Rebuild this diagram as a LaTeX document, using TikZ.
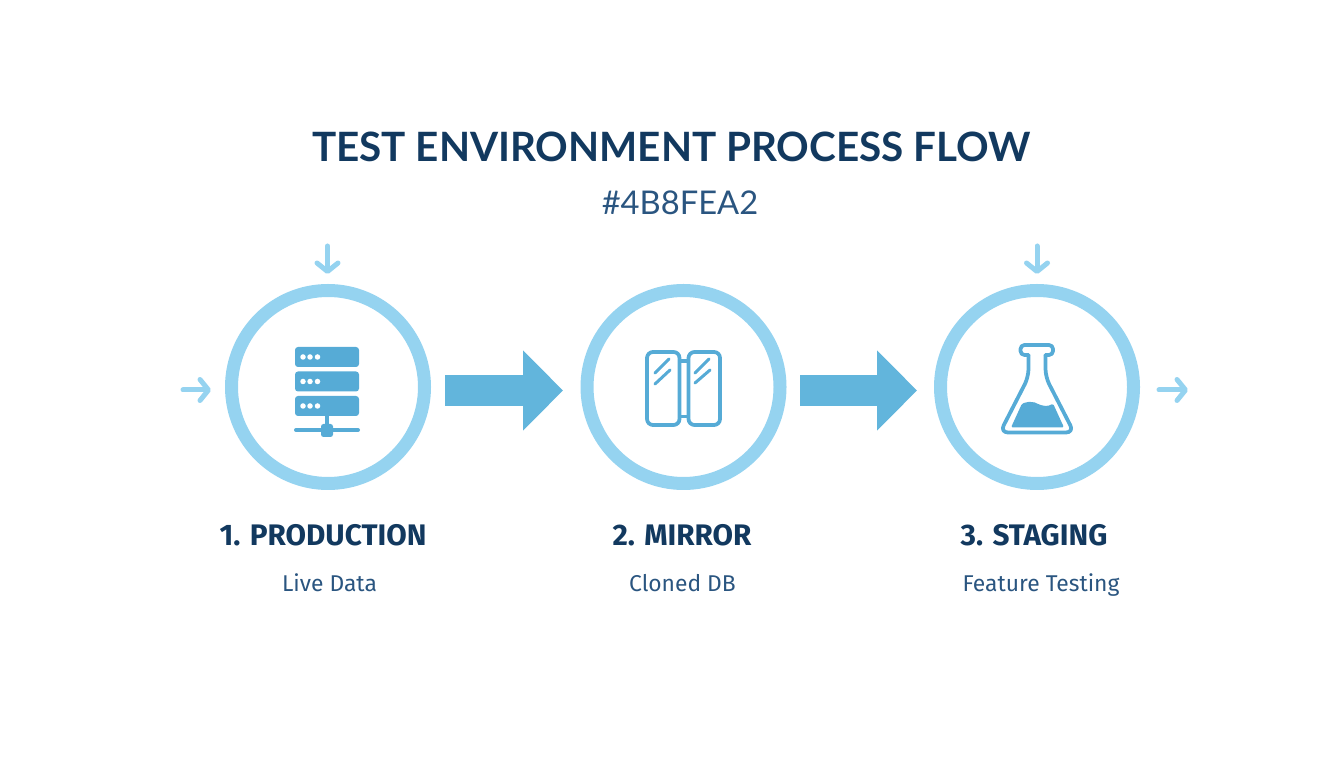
\documentclass[tikz,border=0pt]{standalone}
\usepackage{fontspec}
\setmainfont{Fira Sans}
\newfontfamily\titlefont{Lato}
\usepackage{xcolor}
\usetikzlibrary{arrows.meta,calc}
\definecolor{ringcolor}{HTML}{95D3F0}
\definecolor{iconcolor}{HTML}{56ABD6}
\definecolor{flowcolor}{HTML}{62B5DC}
\definecolor{titlecolor}{HTML}{12395F}
\definecolor{subcolor}{HTML}{2A5580}

\begin{document}
\begin{tikzpicture}[
    ring/.style={circle, draw=ringcolor, line width=0.26cm, minimum size=3.86cm, inner sep=0pt, outer sep=0pt},
    flowarrow/.style={draw=flowcolor, line width=0.63cm, -{Triangle[length=0.8cm, width=1.56cm]}},
    smallarrow/.style={draw=ringcolor, line width=0.1cm, line cap=round, -{Straight Barb[length=0.17cm, width=0.42cm, round]}},
    maintitle/.style={anchor=base, text=titlecolor, font=\titlefont\bfseries\fontsize{23}{28}\selectfont},
    subtitle/.style={anchor=base, text=subcolor, font=\titlefont\fontsize{18.6}{22}\selectfont},
    steptitle/.style={anchor=base, text=titlecolor, font=\bfseries\fontsize{16.9}{20}\selectfont},
    stepnote/.style={anchor=base, text=subcolor, font=\fontsize{13}{16}\selectfont},
    iconline/.style={draw=iconcolor, line width=0.075cm, line join=round, line cap=round},
    rack/.style={fill=iconcolor, rounded corners=0.06cm},
    rackdot/.style={fill=white},
]
    \useasboundingbox (0,0) rectangle (26.88,15.36);

    % Titles
    \node[maintitle] (title) at (13.43, 12.12) {TEST ENVIRONMENT PROCESS FLOW};
    \node[subtitle] (code) at (13.6, 11.06) {\#4B8FEA2};

    % Circles
    \node[ring] (production) at (6.56, 7.62) {};
    \node[ring] (mirror) at (13.67, 7.62) {};
    \node[ring] (staging) at (20.74, 7.62) {};

    % Labels
    \node[steptitle] (productionlabel) at (6.46, 4.44) {1. PRODUCTION};
    \node[steptitle] (mirrorlabel) at (13.64, 4.44) {2. MIRROR};
    \node[steptitle] (staginglabel) at (20.68, 4.44) {3. STAGING};
    \node[stepnote] (productionnote) at (6.59, 3.52) {Live Data};
    \node[stepnote] (mirrornote) at (13.65, 3.52) {Cloned DB};
    \node[stepnote] (stagingnote) at (20.82, 3.52) {Feature Testing};

    % Arrows
    \coordinate (flowrow) at (0, 7.55);
    \coordinate (intop1) at (6.55, 10.44);
    \coordinate (intop3) at (20.74, 10.44);
    \coordinate (inleft) at (3.66, 7.56);
    \coordinate (outright) at (23.76, 7.56);

    \draw[flowarrow, shorten <=0.41cm, shorten >=0.48cm] (production.east |- flowrow) -- (mirror.west |- flowrow);
    \draw[flowarrow, shorten <=0.40cm, shorten >=0.47cm] (mirror.east |- flowrow) -- (staging.west |- flowrow);

    \draw[smallarrow, shorten >=0.33cm] (intop1) -- (intop1 |- production.north);
    \draw[smallarrow, shorten >=0.33cm] (intop3) -- (intop3 |- staging.north);
    \draw[smallarrow, shorten >=0.41cm] (inleft) -- (inleft -| production.west);
    \draw[smallarrow, shorten <=0.51cm] (outright -| staging.east) -- (outright);

    % Server icon
    \foreach \rowy in {8.02, 7.53, 7.04} {
        \fill[rack] (5.90, \rowy) rectangle (7.18, \rowy+0.40);
        \foreach \dotx in {6.06, 6.20, 6.35}
            \fill[rackdot] (\dotx, \rowy+0.20) circle (0.055);
    }
    \draw[draw=iconcolor, line width=0.08cm] (6.54, 7.04) -- (6.54, 6.76);
    \draw[draw=iconcolor, line width=0.08cm, line cap=round] (5.92, 6.76) -- (7.16, 6.76);
    \fill[iconcolor, rounded corners=0.05cm] (6.42, 6.62) rectangle (6.66, 6.88);

    % Mirror icon
    \draw[iconline, rounded corners=0.12cm] (12.94, 6.86) rectangle (13.59, 8.32);
    \draw[iconline, rounded corners=0.12cm] (13.77, 6.86) rectangle (14.40, 8.32);
    \draw[iconline] (13.62, 8.14) -- (13.74, 8.14);
    \draw[iconline] (13.62, 7.03) -- (13.74, 7.03);
    \draw[iconline, line width=0.06cm] (13.10, 7.90) -- (13.38, 8.18);
    \draw[iconline, line width=0.06cm] (13.10, 7.68) -- (13.40, 7.96);
    \draw[iconline, line width=0.06cm] (13.90, 7.90) -- (14.18, 8.18);
    \draw[iconline, line width=0.06cm] (13.90, 7.70) -- (14.20, 7.96);

    % Flask icon
    \draw[iconline, rounded corners=0.08cm] (20.57, 8.26) -- (20.41, 8.26) -- (20.41, 8.46) -- (21.06, 8.46) -- (21.06, 8.26) -- (20.91, 8.26);
    \draw[iconline, rounded corners=0.16cm] (20.57, 8.26) -- (20.57, 7.82) -- (20.00, 6.71) -- (21.48, 6.71) -- (20.91, 7.82) -- (20.91, 8.26);
    \fill[iconcolor, rounded corners=0.03cm] (20.22, 6.81) -- (20.44, 7.29)
        .. controls (20.56, 7.32) and (20.62, 7.34) .. (20.72, 7.30)
        .. controls (20.84, 7.24) and (20.96, 7.22) .. (21.06, 7.29)
        -- (21.28, 6.81) -- cycle;
\end{tikzpicture}
\end{document}
